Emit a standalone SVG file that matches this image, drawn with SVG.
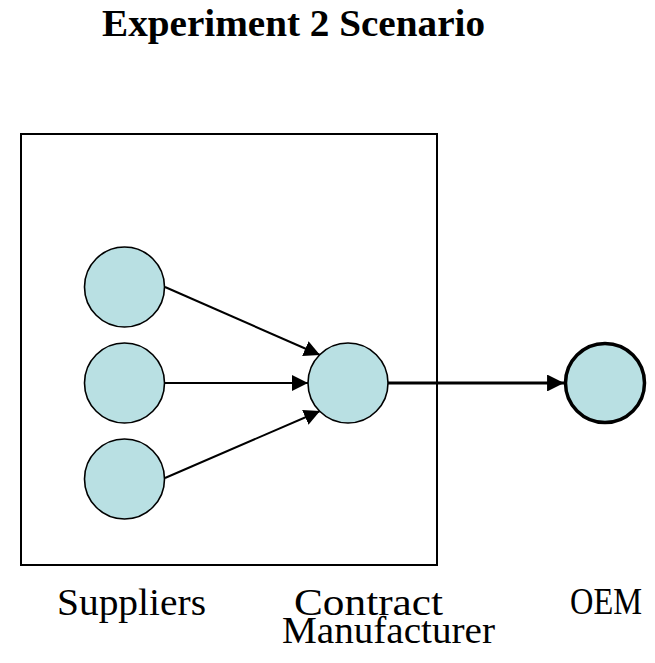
<svg xmlns="http://www.w3.org/2000/svg" width="655" height="663" viewBox="0 0 655 663">
<style>
.node{fill:#b9e0e3;stroke:#000;stroke-width:1.6}
.oem{fill:#b9e0e3;stroke:#000;stroke-width:3.5}
.edge{stroke:#000;stroke-width:2;fill:none}
.thick{stroke:#000;stroke-width:3.2;fill:none}
.lbl{font-family:"Liberation Serif","DejaVu Serif",serif;font-size:38px;fill:#000}
.title{font-family:"Liberation Serif","DejaVu Serif",serif;font-size:38px;font-weight:bold;fill:#000}
</style>
<defs>
<marker id="ah" viewBox="0 0 10 10" refX="10" refY="5" markerWidth="8" markerHeight="8" markerUnits="strokeWidth" orient="auto">
<path d="M0,0 L10,5 L0,10 z" fill="#000"/>
</marker>
<marker id="ah2" viewBox="0 0 10 10" refX="10" refY="5" markerWidth="5.3" markerHeight="5.3" markerUnits="strokeWidth" orient="auto">
<path d="M0,0 L10,5 L0,10 z" fill="#000"/>
</marker>
</defs>
<text class="title" x="102" y="36" textLength="383" lengthAdjust="spacingAndGlyphs">Experiment 2 Scenario</text>
<g id="box"><rect x="21" y="134" width="416" height="431" fill="none" stroke="#000" stroke-width="2"/></g>
<g id="connectors">
<line class="edge" x1="165" y1="287" x2="320" y2="355" marker-end="url(#ah)"/>
<line class="edge" x1="165" y1="383" x2="308" y2="383" marker-end="url(#ah)"/>
<line class="edge" x1="165" y1="478" x2="320" y2="411" marker-end="url(#ah)"/>
<line class="thick" x1="388" y1="383" x2="564" y2="383" marker-end="url(#ah2)"/>
</g>
<g id="supplier1"><circle class="node" cx="124.5" cy="287" r="40"/></g>
<g id="supplier2"><circle class="node" cx="124.5" cy="383" r="40"/></g>
<g id="supplier3"><circle class="node" cx="124.5" cy="479" r="40"/></g>
<g id="cm"><circle class="node" cx="348" cy="383" r="40"/></g>
<g id="oem"><circle class="oem" cx="605" cy="383" r="39.5"/></g>
<g id="labels">
<text class="lbl" x="57" y="615" textLength="149" lengthAdjust="spacingAndGlyphs">Suppliers</text>
<text class="lbl" x="294" y="615" textLength="149" lengthAdjust="spacingAndGlyphs">Contract</text>
<text class="lbl" x="282" y="643" textLength="213" lengthAdjust="spacingAndGlyphs">Manufacturer</text>
<text class="lbl" x="570" y="614" textLength="72" lengthAdjust="spacingAndGlyphs">OEM</text>
</g>
</svg>
